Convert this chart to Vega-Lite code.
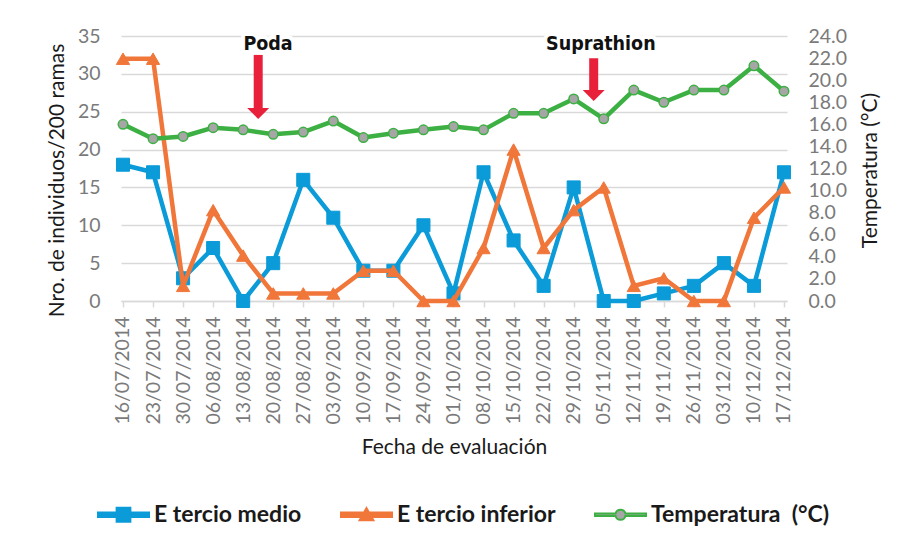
{
  "$schema": "https://vega.github.io/schema/vega-lite/v6.json",
  "width": 666,
  "height": 265,
  "autosize": {"type": "none"},
  "padding": {"left": 121, "top": 36, "right": 115, "bottom": 246},
  "background": "white",
  "config": {
    "font": "Lato",
    "view": {"stroke": null},
    "axis": {"titleFontWeight": "normal", "titleColor": "#1a1a1a", "labelColor": "#7a7a7a", "labelFontSize": 19.5, "titleFontSize": 21, "labelOverlap": false}
  },
  "datasets": {
    "muestreo": [
      {"fecha": "2014-07-16", "medio": 18, "inferior": 32, "temp": 16.0},
      {"fecha": "2014-07-23", "medio": 17, "inferior": 32, "temp": 14.7},
      {"fecha": "2014-07-30", "medio": 3, "inferior": 2, "temp": 14.9},
      {"fecha": "2014-08-06", "medio": 7, "inferior": 12, "temp": 15.7},
      {"fecha": "2014-08-13", "medio": 0, "inferior": 6, "temp": 15.5},
      {"fecha": "2014-08-20", "medio": 5, "inferior": 1, "temp": 15.1},
      {"fecha": "2014-08-27", "medio": 16, "inferior": 1, "temp": 15.3},
      {"fecha": "2014-09-03", "medio": 11, "inferior": 1, "temp": 16.3},
      {"fecha": "2014-09-10", "medio": 4, "inferior": 4, "temp": 14.8},
      {"fecha": "2014-09-17", "medio": 4, "inferior": 4, "temp": 15.2},
      {"fecha": "2014-09-24", "medio": 10, "inferior": 0, "temp": 15.5},
      {"fecha": "2014-10-01", "medio": 1, "inferior": 0, "temp": 15.8},
      {"fecha": "2014-10-08", "medio": 17, "inferior": 7, "temp": 15.5},
      {"fecha": "2014-10-15", "medio": 8, "inferior": 20, "temp": 17.0},
      {"fecha": "2014-10-22", "medio": 2, "inferior": 7, "temp": 17.0},
      {"fecha": "2014-10-29", "medio": 15, "inferior": 12, "temp": 18.3},
      {"fecha": "2014-11-05", "medio": 0, "inferior": 15, "temp": 16.5},
      {"fecha": "2014-11-12", "medio": 0, "inferior": 2, "temp": 19.1},
      {"fecha": "2014-11-19", "medio": 1, "inferior": 3, "temp": 18.0},
      {"fecha": "2014-11-26", "medio": 2, "inferior": 0, "temp": 19.1},
      {"fecha": "2014-12-03", "medio": 5, "inferior": 0, "temp": 19.1},
      {"fecha": "2014-12-10", "medio": 2, "inferior": 11, "temp": 21.3},
      {"fecha": "2014-12-17", "medio": 17, "inferior": 15, "temp": 19.0}
    ],
    "eventos": [
      {"evento": "Poda", "fecha": "2014-08-16T12:00:00Z", "tope": 32.5, "base": 25.3, "punta": 24.77, "fecha_texto": "2014-08-18T19:00:00Z", "y_texto": 33.9},
      {"evento": "Suprathion", "fecha": "2014-11-02T16:00:00Z", "tope": 32.06, "base": 27.7, "punta": 27.14, "fecha_texto": "2014-11-04T08:00:00Z", "y_texto": 33.9}
    ]
  },
  "encoding": {
    "x": {
      "field": "fecha",
      "type": "temporal",
      "title": "Fecha de evaluación",
      "scale": {
        "type": "utc",
        "domain": [
          {"year": 2014, "month": 7, "date": 15, "hours": 12, "minutes": 50, "utc": true},
          {"year": 2014, "month": 12, "date": 17, "hours": 16, "minutes": 50, "utc": true}
        ]
      },
      "axis": {
        "values": [
          {"year": 2014, "month": 7, "date": 16, "utc": true},
          {"year": 2014, "month": 7, "date": 23, "utc": true},
          {"year": 2014, "month": 7, "date": 30, "utc": true},
          {"year": 2014, "month": 8, "date": 6, "utc": true},
          {"year": 2014, "month": 8, "date": 13, "utc": true},
          {"year": 2014, "month": 8, "date": 20, "utc": true},
          {"year": 2014, "month": 8, "date": 27, "utc": true},
          {"year": 2014, "month": 9, "date": 3, "utc": true},
          {"year": 2014, "month": 9, "date": 10, "utc": true},
          {"year": 2014, "month": 9, "date": 17, "utc": true},
          {"year": 2014, "month": 9, "date": 24, "utc": true},
          {"year": 2014, "month": 10, "date": 1, "utc": true},
          {"year": 2014, "month": 10, "date": 8, "utc": true},
          {"year": 2014, "month": 10, "date": 15, "utc": true},
          {"year": 2014, "month": 10, "date": 22, "utc": true},
          {"year": 2014, "month": 10, "date": 29, "utc": true},
          {"year": 2014, "month": 11, "date": 5, "utc": true},
          {"year": 2014, "month": 11, "date": 12, "utc": true},
          {"year": 2014, "month": 11, "date": 19, "utc": true},
          {"year": 2014, "month": 11, "date": 26, "utc": true},
          {"year": 2014, "month": 12, "date": 3, "utc": true},
          {"year": 2014, "month": 12, "date": 10, "utc": true},
          {"year": 2014, "month": 12, "date": 17, "utc": true}
        ],
        "labelExpr": "utcFormat(datum.value, '%d/%m/%Y')",
        "labelAngle": -90,
        "labelFontSize": 19.5,
        "labelPadding": 9,
        "labelFlush": false,
        "labelOverlap": false,
        "grid": false,
        "tickSize": 6,
        "tickColor": "#d9d9d9",
        "tickWidth": 1.5,
        "domainColor": "#d9d9d9",
        "domainWidth": 1.5,
        "titleX": 333,
        "titleY": 146,
        "titleBaseline": "middle"
      }
    }
  },
  "layer": [
    {
      "encoding": {
        "y": {
          "type": "quantitative",
          "title": "Nro. de individuos/200 ramas",
          "scale": {"domain": [0, 35]},
          "axis": {
            "values": [0, 5, 10, 15, 20, 25, 30, 35],
            "labelOverlap": false,
            "grid": true,
            "gridColor": "#d9d9d9",
            "gridWidth": 1.5,
            "domain": false,
            "ticks": false,
            "labelPadding": 21,
            "titleAngle": -90,
            "titleX": -64,
            "titleY": 144,
            "titleAlign": "center",
            "titleBaseline": "middle"
          }
        }
      },
      "layer": [
        {
          "data": {"name": "muestreo"},
          "mark": {"type": "line", "strokeWidth": 4.5, "strokeJoin": "round", "strokeCap": "round"},
          "encoding": {
            "y": {"field": "medio"},
            "color": {
              "datum": "E tercio medio",
              "type": "nominal",
              "scale": {
                "domain": ["E tercio medio", "E tercio inferior", "Temperatura\u00a0 (°C)"],
                "range": ["#0a9bd8", "#f0763a", "#3cb043"]
              },
              "legend": {
                "title": null,
                "orient": "none",
                "legendX": -24,
                "legendY": 452,
                "direction": "horizontal",
                "columns": 3,
                "padding": 0,
                "columnPadding": 35,
                "symbolSize": 2601,
                "labelFontSize": 23,
                "labelFontWeight": "bold",
                "labelColor": "#1a1a1a",
                "labelOffset": 4,
                "labelLimit": 300,
                "encode": {
                  "symbols": {
                    "update": {
                      "shape": {"signal": "datum.value === 'E tercio medio' ? 'M-1,-0.09H1V0.09H-1Z M-0.27,-0.27H0.27V0.27H-0.27Z' : datum.value === 'E tercio inferior' ? 'M-1,-0.09H1V0.09H-1Z M0,-0.26L0.27,0.22H-0.27Z' : 'M-1,-0.045H-0.1949A0.2,0.2,0,0,1,0.1949,-0.045H1V0.045H0.1949A0.2,0.2,0,0,1,-0.1949,0.045H-1Z'"},
                      "fill": {"signal": "datum.value === 'E tercio medio' ? '#0a9bd8' : datum.value === 'E tercio inferior' ? '#f0763a' : '#a6a6a6'"},
                      "stroke": {"signal": "datum.value === 'E tercio medio' || datum.value === 'E tercio inferior' ? null : '#3cb043'"},
                      "strokeWidth": {"value": 2},
                      "opacity": {"value": 1},
                      "fillOpacity": {"value": 1}
                    }
                  }
                }
              }
            }
          }
        },
        {
          "data": {"name": "muestreo"},
          "mark": {"type": "point", "shape": "square", "size": 170, "filled": true, "color": "#0a9bd8", "stroke": "#0a9bd8", "strokeWidth": 1, "opacity": 1},
          "encoding": {"y": {"field": "medio"}}
        },
        {
          "data": {"name": "muestreo"},
          "mark": {"type": "line", "strokeWidth": 4.5, "strokeJoin": "round", "strokeCap": "round"},
          "encoding": {
            "y": {"field": "inferior"},
            "color": {"datum": "E tercio inferior", "type": "nominal"}
          }
        },
        {
          "data": {"name": "muestreo"},
          "mark": {"type": "point", "shape": "triangle-up", "size": 175, "filled": true, "color": "#f0763a", "stroke": "#f0763a", "strokeWidth": 1, "opacity": 1},
          "encoding": {"y": {"field": "inferior"}}
        },
        {
          "data": {"name": "eventos"},
          "mark": {"type": "rule", "strokeWidth": 9, "color": "#e8203a", "strokeCap": "butt"},
          "encoding": {"y": {"field": "tope"}, "y2": {"field": "base"}}
        },
        {
          "data": {"name": "eventos"},
          "mark": {"type": "point", "shape": "M-1,-0.5L1,-0.5L0,0.5Z", "size": 484, "filled": true, "color": "#e8203a", "strokeWidth": 0, "opacity": 1},
          "encoding": {"y": {"field": "punta"}}
        },
        {
          "data": {"name": "eventos"},
          "mark": {"type": "text", "font": "DejaVu Sans Condensed, Liberation Sans, sans-serif", "fontWeight": "bold", "fontSize": 19.5, "baseline": "middle", "align": "center", "fill": "white", "stroke": "white", "strokeWidth": 8, "strokeJoin": "round"},
          "encoding": {
            "x": {"field": "fecha_texto", "type": "temporal"},
            "y": {"field": "y_texto"},
            "text": {"field": "evento"}
          }
        },
        {
          "data": {"name": "eventos"},
          "mark": {"type": "text", "font": "DejaVu Sans Condensed, Liberation Sans, sans-serif", "fontWeight": "bold", "fontSize": 19.5, "baseline": "middle", "align": "center", "color": "#111111"},
          "encoding": {
            "x": {"field": "fecha_texto", "type": "temporal"},
            "y": {"field": "y_texto"},
            "text": {"field": "evento"}
          }
        }
      ]
    },
    {
      "data": {"name": "muestreo"},
      "encoding": {
        "y": {
          "field": "temp",
          "type": "quantitative",
          "title": "Temperatura (°C)",
          "scale": {"domain": [0, 24]},
          "axis": {
            "orient": "right",
            "values": [0, 2, 4, 6, 8, 10, 12, 14, 16, 18, 20, 22, 24],
            "labelOverlap": false,
            "format": ".1f",
            "grid": false,
            "domain": false,
            "ticks": false,
            "labelPadding": 21,
            "titleAngle": -90,
            "titleX": 83,
            "titleY": 134,
            "titleAlign": "center",
            "titleBaseline": "middle"
          }
        }
      },
      "layer": [
        {
          "mark": {"type": "line", "strokeWidth": 4.5, "strokeJoin": "round", "strokeCap": "round"},
          "encoding": {"color": {"datum": "Temperatura\u00a0 (°C)", "type": "nominal"}}
        },
        {
          "mark": {"type": "point", "shape": "circle", "size": 90, "filled": true, "fill": "#a6a6a6", "stroke": "#3cb043", "strokeWidth": 1.5, "opacity": 1}
        }
      ]
    }
  ],
  "resolve": {"scale": {"y": "independent"}}
}
